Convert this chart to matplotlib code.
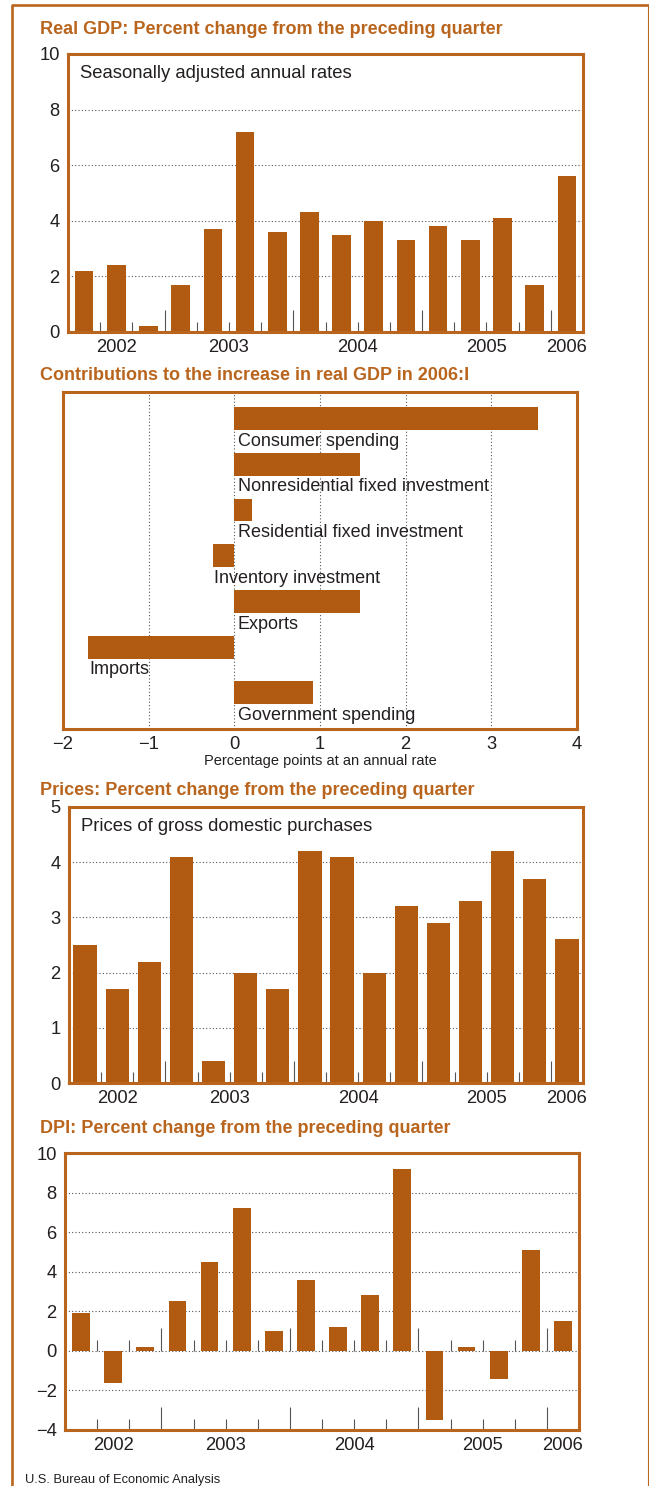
import matplotlib
matplotlib.use('Agg')
import matplotlib.pyplot as plt
from matplotlib.lines import Line2D
import numpy as np

plt.rcParams['font.family'] = ['Liberation Sans', 'DejaVu Sans']

# Данни
quarters = ['2002:II', '2002:III', '2002:IV',
            '2003:I', '2003:II', '2003:III', '2003:IV',
            '2004:I', '2004:II', '2004:III', '2004:IV',
            '2005:I', '2005:II', '2005:III', '2005:IV',
            '2006:I']
years = ['2002', '2003', '2004', '2005', '2006']

gdp = [2.2, 2.4, 0.2, 1.7, 3.7, 7.2, 3.6, 4.3, 3.5, 4.0, 3.3, 3.8, 3.3, 4.1, 1.7, 5.6]
prices = [2.5, 1.7, 2.2, 4.1, 0.4, 2.0, 1.7, 4.2, 4.1, 2.0, 3.2, 2.9, 3.3, 4.2, 3.7, 2.6]
dpi_change = [1.9, -1.6, 0.2, 2.5, 4.5, 7.2, 1.0, 3.6, 1.2, 2.8, 9.2, -3.5, 0.2, -1.4, 5.1, 1.5]

components = ['Consumer spending', 'Nonresidential fixed investment',
              'Residential fixed investment', 'Inventory investment',
              'Exports', 'Imports', 'Government spending']
contributions = [3.54, 1.47, 0.21, -0.25, 1.47, -1.71, 0.92]

# Цветове
BAR = '#B05A12'
ORANGE = '#B9651E'
TEXT = '#231F20'
GRID = '#555555'

W, H = 649, 1486
fig = plt.figure(figsize=(W / 100, H / 100), dpi=100)


def rect(left, right, top, bottom):
    return [left / W, 1 - bottom / H, (right - left) / W, (bottom - top) / H]


def style_axes(ax):
    for s in ax.spines.values():
        s.set_color(ORANGE)
        s.set_linewidth(2.2)
        s.set_zorder(5)
    ax.tick_params(length=0, labelsize=13.2, labelcolor=TEXT)


def quarter_panel(box, values, ylim, yticks, width, tick_bases, short_h, long_h, note=None):
    ax = fig.add_axes(rect(*box))
    n = len(values)
    x = np.arange(n)
    ax.bar(x, values, width=width, color=BAR, zorder=2)
    ax.set_xlim(-0.5, n - 0.5)
    ax.set_ylim(*ylim)
    ax.set_yticks(yticks)
    for v in yticks[1:-1]:
        ax.axhline(v, color=GRID, lw=0.8, ls=(0, (1, 2)), zorder=1)

    # малки черти между тримесечията
    bounds = x - 0.5
    is_year = np.array([q.endswith(':I') for q in quarters])
    heights = np.where(is_year, long_h, short_h)
    for base in tick_bases:
        ax.vlines(bounds, base, base + heights, color='#555555', lw=0.8, zorder=1)

    # години
    year_pos = [np.mean([i for i, q in enumerate(quarters) if q.startswith(y)]) for y in years]
    ax.set_xticks(year_pos, years)
    style_axes(ax)
    ax.tick_params(axis='x', pad=5)
    ax.tick_params(axis='y', pad=6)
    if note:
        ax.text(0.023, 0.93, note, transform=ax.transAxes, fontsize=13.3,
                color=TEXT, va='center', ha='left')
    return ax


def title(text, baseline):
    fig.text(40 / W, 1 - baseline / H, text, fontsize=13, fontweight='bold',
             color=ORANGE, ha='left', va='baseline')


# Рамка на цялата фигура
fig.add_artist(Line2D([11.5 / W, 11.5 / W, 648 / W], [-0.01, 1 - 4.5 / H, 1 - 4.5 / H],
                      transform=fig.transFigure, color=ORANGE, lw=1.9))
fig.add_artist(Line2D([648 / W, 648 / W], [1 - 4.5 / H, -0.01],
                      transform=fig.transFigure, color=ORANGE, lw=0.8))

# 1. Реален БВП
title('Real GDP: Percent change from the preceding quarter', 34)
quarter_panel((68, 583, 54, 332), gdp, (0, 10), [0, 2, 4, 6, 8, 10], 0.58,
              [0], 0.36, 0.8, note='Seasonally adjusted annual rates')

# 2. Приноси към растежа
title('Contributions to the increase in real GDP in 2006:I', 380)
ax2 = fig.add_axes(rect(63, 577, 392, 729))
yy = np.arange(len(components))
ax2.barh(yy, contributions, height=0.5, color=BAR, zorder=2)
ax2.set_xlim(-2, 4)
ax2.set_ylim(6.79, -0.58)
ax2.set_yticks([])
ax2.set_xticks(range(-2, 5))
for v in range(-1, 4):
    ax2.axvline(v, color=GRID, lw=0.8, ls=(0, (1, 2)), zorder=1)
for i, (name, val) in enumerate(zip(components, contributions)):
    tx = val + 0.015 if val < 0 else 0.04
    ax2.text(tx, i + 0.31, name, fontsize=13, color=TEXT, ha='left', va='top', zorder=3)
style_axes(ax2)
ax2.tick_params(axis='x', pad=5)
ax2.set_xlabel('Percentage points at an annual rate', fontsize=10.5, color=TEXT, labelpad=1)

# 3. Цени
title('Prices: Percent change from the preceding quarter', 795)
quarter_panel((69, 583, 807, 1083), prices, (0, 5), [0, 1, 2, 3, 4, 5], 0.72,
              [0], 0.2, 0.4, note='Prices of gross domestic purchases')

# 4. Разполагаем личен доход
title('DPI: Percent change from the preceding quarter', 1133)
quarter_panel((65, 579, 1153, 1430), dpi_change, (-4, 10), [-4, -2, 0, 2, 4, 6, 8, 10], 0.55,
              [-4, 0], 0.55, 1.15)

fig.text(25 / W, 1 - 1483 / H, 'U.S. Bureau of Economic Analysis', fontsize=9.3,
         color=TEXT, ha='left', va='baseline')

fig.savefig('out.png', dpi=100)
